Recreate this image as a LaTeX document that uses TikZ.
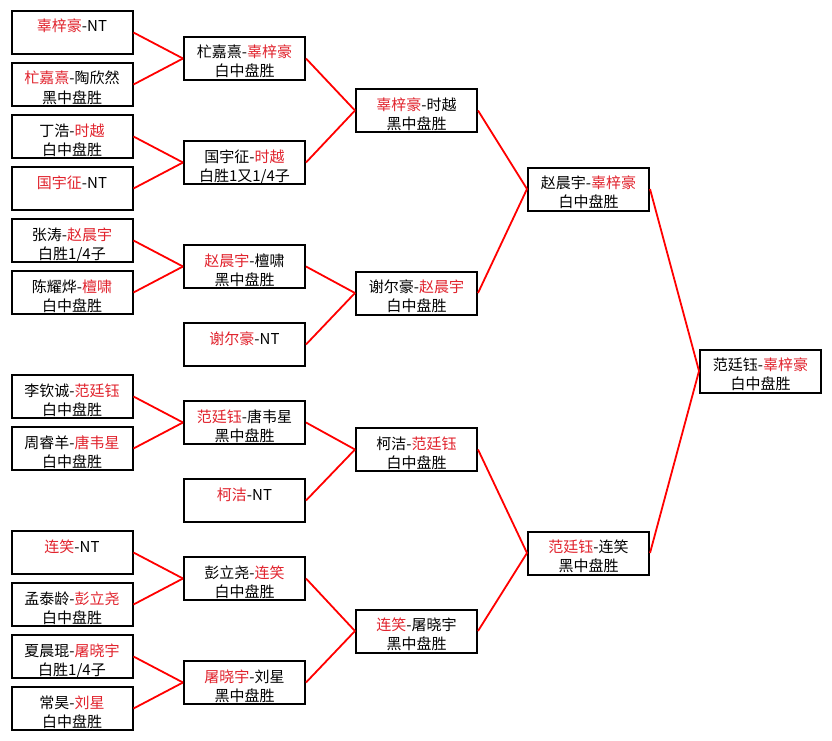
\documentclass[tikz,border=0pt]{standalone}
\usepackage{fontspec}
\usepackage{xcolor}
\usepackage{tikz}
\newfontfamily\cjk{Noto Sans CJK SC}
\definecolor{winred}{RGB}{225,35,45}
\newcommand{\win}[1]{\textcolor{winred}{#1}}

\begin{document}
\begin{tikzpicture}[
    x=1pt, y=-1pt,
    font=\cjk\fontsize{15}{19}\selectfont,
    game/.style={draw, line width=2pt, align=center, inner sep=0pt,
                 minimum width=121pt, minimum height=43pt,
                 text height=40pt, text depth=3pt},
    link/.style={draw=red, line width=1.8pt},
    ]
\useasboundingbox[fill=white] (0,0) rectangle (832,741);

% first round
\node[game] (r1a) at (72,32.5)  {\win{辜梓豪}-NT\\\mbox{}};
\node[game] (r1b) at (72,84.5)  {\win{杧嘉熹}-陶欣然\\黑中盘胜};
\node[game] (r1c) at (72,136.5) {丁浩-\win{时越}\\白中盘胜};
\node[game] (r1d) at (72,188.5) {\win{国宇征}-NT\\\mbox{}};
\node[game] (r1e) at (72,240.5) {张涛-\win{赵晨宇}\\白胜1/4子};
\node[game] (r1f) at (72,292.5) {陈耀烨-\win{檀啸}\\白中盘胜};
\node[game] (r1g) at (72,396.5) {李钦诚-\win{范廷钰}\\白中盘胜};
\node[game] (r1h) at (72,448.5) {周睿羊-\win{唐韦星}\\白中盘胜};
\node[game] (r1i) at (72,552.5) {\win{连笑}-NT\\\mbox{}};
\node[game] (r1j) at (72,604.5) {孟泰龄-\win{彭立尧}\\白中盘胜};
\node[game] (r1k) at (72,656.5) {夏晨琨-\win{屠晓宇}\\白胜1/4子};
\node[game] (r1l) at (72,708.5) {常昊-\win{刘星}\\白中盘胜};

% second round
\node[game] (r2a) at (244.5,58.5)  {杧嘉熹-\win{辜梓豪}\\白中盘胜};
\node[game] (r2b) at (244.5,162.5) {国宇征-\win{时越}\\白胜1又1/4子};
\node[game] (r2c) at (244.5,266.5) {\win{赵晨宇}-檀啸\\黑中盘胜};
\node[game] (r2d) at (244.5,344.5) {\win{谢尔豪}-NT\\\mbox{}};
\node[game] (r2e) at (244.5,422.5) {\win{范廷钰}-唐韦星\\黑中盘胜};
\node[game] (r2f) at (244.5,500.5) {\win{柯洁}-NT\\\mbox{}};
\node[game] (r2g) at (244.5,578.5) {彭立尧-\win{连笑}\\白中盘胜};
\node[game] (r2h) at (244.5,682.5) {\win{屠晓宇}-刘星\\黑中盘胜};

% quarter finals
\node[game] (r3a) at (416.5,110.5) {\win{辜梓豪}-时越\\黑中盘胜};
\node[game] (r3b) at (416.5,293)   {谢尔豪-\win{赵晨宇}\\白中盘胜};
\node[game] (r3c) at (416.5,449.5) {柯洁-\win{范廷钰}\\白中盘胜};
\node[game] (r3d) at (416.5,631)   {\win{连笑}-屠晓宇\\黑中盘胜};

% semi finals and final
\node[game] (r4a) at (588.5,189) {赵晨宇-\win{辜梓豪}\\白中盘胜};
\node[game] (r4b) at (588.5,553) {\win{范廷钰}-连笑\\黑中盘胜};
\node[game] (fin) at (760.5,371) {范廷钰-\win{辜梓豪}\\白中盘胜};

\foreach \a/\b in {r1a/r2a, r1b/r2a, r1c/r2b, r1d/r2b, r1e/r2c, r1f/r2c,
                   r1g/r2e, r1h/r2e, r1i/r2g, r1j/r2g, r1k/r2h, r1l/r2h,
                   r2a/r3a, r2b/r3a, r2c/r3b, r2d/r3b, r2e/r3c, r2f/r3c,
                   r2g/r3d, r2h/r3d, r3a/r4a, r3b/r4a, r3c/r4b, r3d/r4b,
                   r4a/fin, r4b/fin}
    \draw[link] (\a.east) -- (\b.west);
\end{tikzpicture}
\end{document}
